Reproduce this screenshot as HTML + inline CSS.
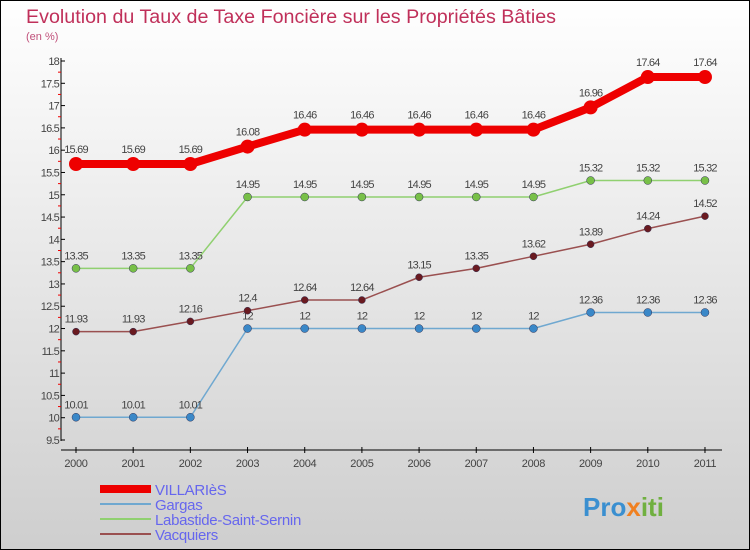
<!DOCTYPE html>
<html><head><meta charset="utf-8"><style>
html,body{margin:0;padding:0}
body{width:750px;height:550px;overflow:hidden;font-family:"Liberation Sans",sans-serif}
svg{display:block}
</style></head><body>
<svg id="chart" width="750" height="550" xmlns="http://www.w3.org/2000/svg" font-family="Liberation Sans, sans-serif">
<defs><linearGradient id="bg" x1="0" y1="0" x2="0" y2="1"><stop offset="0" stop-color="#ffffff"/><stop offset="1" stop-color="#cecece"/></linearGradient></defs>
<rect x="0.5" y="0.5" width="749" height="549" fill="url(#bg)" stroke="#000"/>
<text x="26" y="23" font-size="19" fill="#c0305a" textLength="530" lengthAdjust="spacingAndGlyphs">Evolution du Taux de Taxe Foncière sur les Propriétés Bâties</text>
<text x="26" y="40" font-size="11" fill="#c0507a">(en %)</text>
<g id="axes"></g>
<g id="series"></g>
<g id="legend"></g>
<text x="583" y="516" font-size="26" font-weight="bold" fill="#3a8fd0">Pro<tspan fill="#f08020">x</tspan><tspan fill="#70b040">iti</tspan></text>
</svg>
<script>
const years=[2000,2001,2002,2003,2004,2005,2006,2007,2008,2009,2010,2011];
const yTicks=[9.5,10,10.5,11,11.5,12,12.5,13,13.5,14,14.5,15,15.5,16,16.5,17,17.5,18];
const villaries=[15.69,15.69,15.69,16.08,16.46,16.46,16.46,16.46,16.46,16.96,17.64,17.64];
const gargas=[10.01,10.01,10.01,12,12,12,12,12,12,12.36,12.36,12.36];
const labastide=[13.35,13.35,13.35,14.95,14.95,14.95,14.95,14.95,14.95,15.32,15.32,15.32];
const vacquiers=[11.93,11.93,12.16,12.4,12.64,12.64,13.15,13.35,13.62,13.89,14.24,14.52];
const NS="http://www.w3.org/2000/svg";
const xS=i=>76+i*57.18;
const yS=v=>440-(v-9.5)*(379/8.5);
function mk(t,a,p){const e=document.createElementNS(NS,t);for(const k in a)e.setAttribute(k,a[k]);p.appendChild(e);return e;}
const ax=document.getElementById('axes');
let l=mk('line',{x1:61,y1:58,x2:61,y2:441,stroke:'#000'},ax);


l=mk('line',{x1:61,y1:450,x2:722,y2:450,stroke:'#000'},ax);


yTicks.forEach((v,i)=>{const y=yS(v);
 mk('line',{x1:61,y1:y,x2:65,y2:y,stroke:'#000'},ax);
 if(i<yTicks.length-1){mk('line',{x1:58,y1:y-11.15,x2:61,y2:y-11.15,stroke:'#e00'},ax);}
 const t=mk('text',{x:59,y:y+4,'text-anchor':'end','font-size':11,fill:'#444','letter-spacing':'-0.8'},ax);
 
 
 t.textContent=String(v);});
years.forEach((yr,i)=>{const x=xS(i);
 mk('line',{x1:x,y1:447,x2:x,y2:453,stroke:'#000'},ax);
 const t=mk('text',{x:x,y:467,'text-anchor':'middle','font-size':11,fill:'#444','letter-spacing':'-0.3'},ax);
 
 
 t.textContent=yr;});
const sg=document.getElementById('series');
const defs=[
 {name:'gargas',d:gargas,c:'#6fa8d0',mc:'#3a88c8',w:1.5,r:4},
 {name:'vacquiers',d:vacquiers,c:'#9a5050',mc:'#6a1a20',w:1.5,r:3.5},
 {name:'labastide',d:labastide,c:'#90d070',mc:'#78c048',w:1.5,r:4},
 {name:'villaries',d:villaries,c:'#ee0000',mc:'#ee0000',w:8,r:7}];
defs.forEach(s=>{
 const g=mk('g',{},sg);
 
 
 const p=mk('polyline',{points:s.d.map((v,i)=>xS(i)+','+yS(v)).join(' '),fill:'none',stroke:s.c,'stroke-width':s.w,'stroke-linejoin':'round'},g);
 
 
 s.d.forEach((v,i)=>{
  const c=mk('circle',{cx:xS(i),cy:yS(v),r:s.r,fill:s.mc,stroke:s.name==='villaries'?'none':'#335',"stroke-width":0.5},g);
  
  
  const t=mk('text',{x:xS(i),y:yS(v)-(s.name==='villaries'?11:9),'text-anchor':'middle','font-size':11,fill:'#444','letter-spacing':'-0.8'},g);
  
  
  t.textContent=String(v);});
});
const lg=document.getElementById('legend');
const legendItems=[['VILLARIèS','#ee0000',8],['Gargas','#6fa8d0',2],['Labastide-Saint-Sernin','#90d070',2],['Vacquiers','#9a5050',2]];
const ly=[493,508,523,538];
legendItems.forEach((it,i)=>{
 const g=mk('g',{},lg);
 
 
 mk('line',{x1:100,y1:ly[i]-4,x2:151,y2:ly[i]-4,stroke:it[1],'stroke-width':it[2]},g);
 const t=mk('text',{x:155,y:ly[i]+2,'font-size':15,fill:'#6666ee','letter-spacing':'-0.3'},g);
 t.textContent=it[0];});
</script>
</body></html>
